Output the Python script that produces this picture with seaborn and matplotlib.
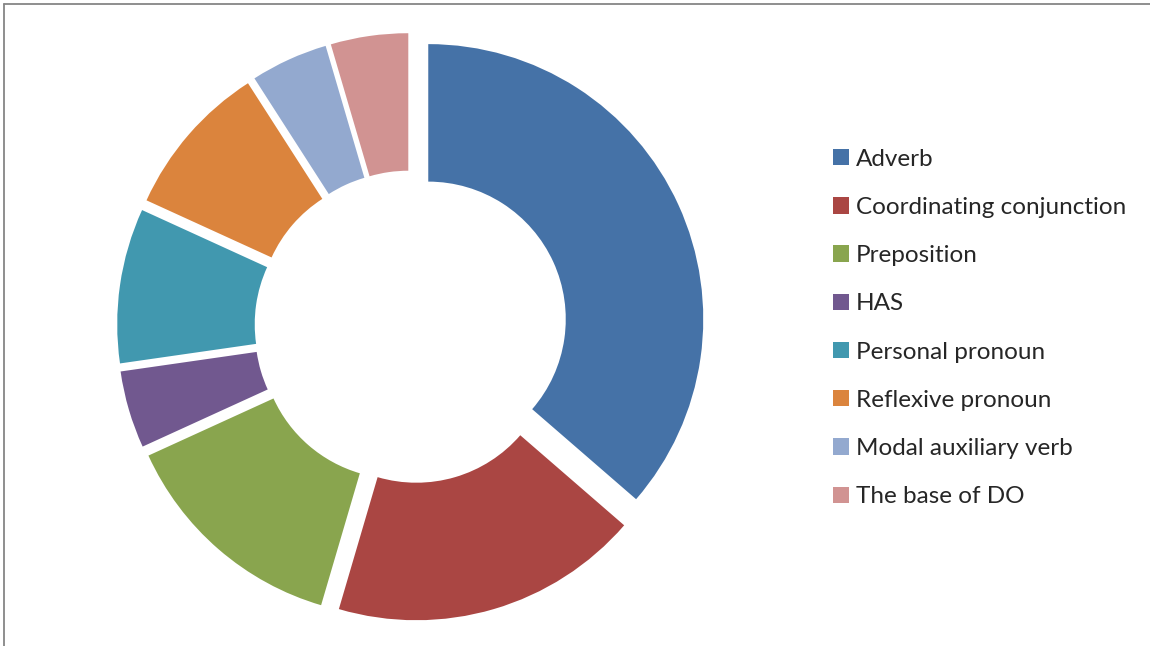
import matplotlib
matplotlib.use("Agg")
import matplotlib.pyplot as plt
from matplotlib.lines import Line2D
from matplotlib.patches import Patch
import seaborn as sns

# Word-class counts shown in the doughnut
categories = ["Adverb", "Coordinating conjunction", "Preposition", "HAS",
              "Personal pronoun", "Reflexive pronoun", "Modal auxiliary verb",
              "The base of DO"]
counts = [8, 4, 3, 1, 2, 2, 1, 1]
colors = ["#4572A7", "#AA4643", "#89A54E", "#71588F",
          "#4198AF", "#DB843D", "#93A9CF", "#D19392"]

sns.set_theme(style="white")
plt.rcParams["font.family"] = ["Lato", "DejaVu Sans"]
palette = sns.color_palette(colors)

W, H = 1150, 646
fig = plt.figure(figsize=(W / 100, H / 100), dpi=100)

# square axes centred on the ring
cx, cy, half = 411, 327, 310
ax = fig.add_axes([(cx - half) / W, (H - cy - half) / H, 2 * half / W, 2 * half / H])
ax.pie(counts, colors=palette, startangle=90, counterclock=False,
       radius=1.0, explode=[0.069] * len(counts),
       wedgeprops=dict(width=0.5, edgecolor="none"))
lim = half / 275
ax.set_xlim(-lim, lim)
ax.set_ylim(-lim, lim)
ax.set_aspect("equal")
ax.axis("off")

handles = [Patch(facecolor=c, edgecolor="none") for c in palette]
fig.legend(handles, categories, loc="upper left",
           bbox_to_anchor=(823 / W, 1 - 139 / H), frameon=False,
           fontsize=17.5, handlelength=0.66, handleheight=0.66,
           handletextpad=0.3, labelspacing=1.12, borderaxespad=0)

# chart-area border along the top and left
fig.add_artist(Line2D([4 / W, 4 / W], [0, 1 - 4 / H], transform=fig.transFigure,
                      color="#868686", lw=1.3))
fig.add_artist(Line2D([4 / W, 1], [1 - 4 / H, 1 - 4 / H], transform=fig.transFigure,
                      color="#868686", lw=1.3))

fig.savefig("out.png", dpi=100, facecolor="white")
